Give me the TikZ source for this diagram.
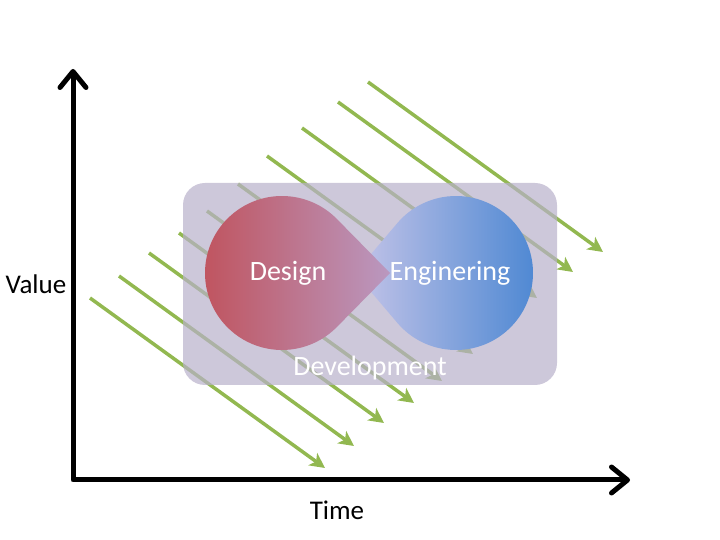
\documentclass[tikz,border=0pt]{standalone}
\usepackage{fontspec}
\setmainfont{Carlito}
\usetikzlibrary{arrows.meta,calc}
\definecolor{arrowgreen}{RGB}{146,184,80}
\definecolor{boxlav}{RGB}{184,176,202}
\definecolor{dropred}{RGB}{192,82,92}
\definecolor{droppurple}{RGB}{186,152,192}
\definecolor{droplav}{RGB}{196,196,232}
\definecolor{dropblue}{RGB}{74,134,210}
\begin{document}
\begin{tikzpicture}[x=1pt,y=1pt,
  axis/.style={line width=5pt, line cap=round, line join=round,
    {Straight Barb[length=16pt,width=26pt,line cap=round,line join=round]}-{Straight Barb[length=16pt,width=26pt,line cap=round,line join=round]}},
  flow/.style={draw=arrowgreen, line width=3.5pt, -{Stealth[length=15pt,width=15pt,inset=4pt]}},
  inlabel/.style={font=\fontsize{28}{32}\selectfont, text=white, inner sep=0pt},
  axlabel/.style={font=\fontsize{27}{30}\selectfont, text=black, inner sep=0pt},
  devbox/.style={fill=boxlav, fill opacity=0.7, rounded corners=22pt, minimum width=374pt, minimum height=202pt, inner sep=0pt}]
\useasboundingbox (0,0) rectangle (720,540);

% green flow arrows
\foreach \i/\x/\y in {1/90/242,2/119/264,3/149/287,4/179/307,5/207/329,6/238/356,7/267/384,8/302/412,9/338/438,10/368/458}{
  \coordinate (s\i) at (\x,\y);
  \coordinate (e\i) at ($(s\i)+(235,-170)$);
  \draw[flow] (s\i) -- (e\i);
}

% development box
\node[devbox] (dev) at (370,256) {};

% teardrops
\coordinate (lc) at (282,267);
\coordinate (rc) at (456,267);
\coordinate (ltip) at (390,267);
\coordinate (rtip) at (355,267);
\shade[left color=droplav, right color=dropblue]
  (rtip) -- ([shift={(456,267)}]220.3:77) arc[start angle=220.3, end angle=499.7, radius=77pt] -- cycle;
\shade[left color=dropred, right color=droppurple]
  (ltip) -- ([shift={(282,267)}]44.5:77) arc[start angle=44.5, end angle=315.5, radius=77pt] -- cycle;

\node[inlabel] (design) at (288,267) {Design};
\node[inlabel] (eng) at (450,267) {Enginering};
\node[inlabel] (devlabel) at (370,172) {Development};

% axes
\coordinate (O) at (73,60);
\coordinate (ytip) at (73,471);
\coordinate (xtip) at (630,60);
\draw[axis] (ytip) -- (O) -- (xtip);

\node[axlabel] (value) at (36,256) {Value};
\node[axlabel] (time) at (337,30) {Time};
\end{tikzpicture}
\end{document}
